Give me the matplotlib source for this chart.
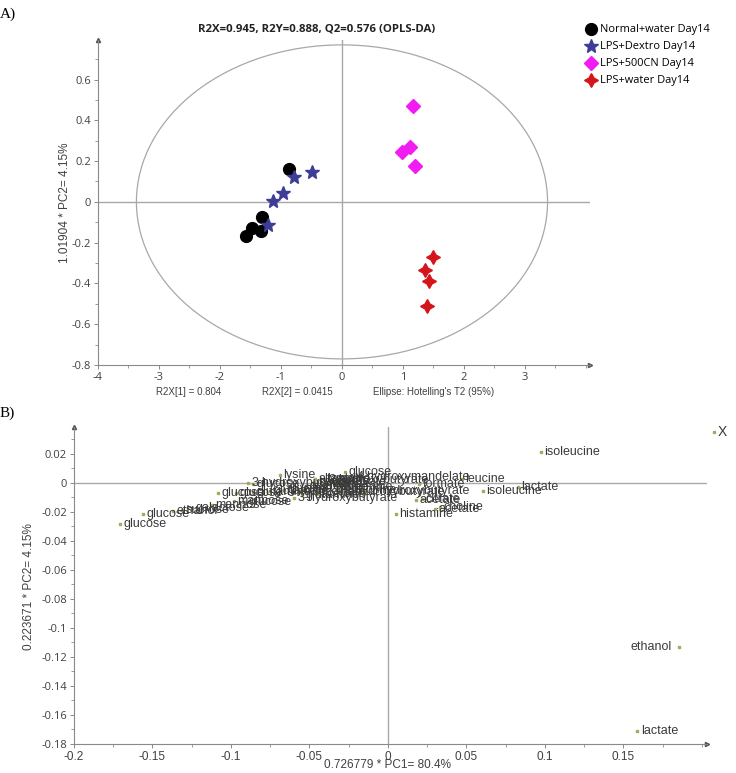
import matplotlib
matplotlib.use("Agg")
import matplotlib.pyplot as plt
from matplotlib.patches import Ellipse
from matplotlib.ticker import MultipleLocator
import numpy as np

# ---------------- data: panel A (scores) ----------------
groups = ["Normal+water Day14", "LPS+Dextro Day14", "LPS+500CN Day14", "LPS+water Day14"]
normal_x = [-0.87, -1.31, -1.48, -1.33, -1.57]
normal_y = [0.160, -0.072, -0.126, -0.142, -0.167]
dextro_x = [-0.78, -0.49, -0.96, -1.13, -1.22]
dextro_y = [0.124, 0.146, 0.046, 0.002, -0.113]
cn500_x = [1.17, 1.12, 0.98, 1.19]
cn500_y = [0.470, 0.270, 0.245, 0.175]
water_x = [1.50, 1.36, 1.43, 1.39]
water_y = [-0.270, -0.335, -0.390, -0.510]
ellipse_a, ellipse_b = 3.37, 0.77

# ---------------- data: panel B (loadings) ----------------
load_names = [
    "X", "isoleucine", "lactate", "isoleucine", "leucine", "formate",
    "acetate", "citrate", "choline", "acetate", "histamine", "ethanol", "lactate",
    "glucose", "glucose", "ethanol", "sucrose", "galactose", "mannose", "mannose", "glucose",
    "3-hydroxybutyrate", "glucose", "glucose", "glutamine", "glutamate", "glycine",
    "3-hydroxybutyrate", "glucose", "lysine", "allantoin", "glucose",
    "4-hydroxymandelate", "2-hydroxybutyrate", "2-hydroxybutyrate", "3-hydroxybutyrate",
    "valine", "alanine", "betaine", "creatine", "taurine", "pyruvate", "succinate",
    "acetone", "methionine", "tyrosine", "glutamine", "threonine",
]
load_x = [
    0.2076, 0.0975, 0.0826, 0.0603, 0.0470, 0.0200,
    0.0178, 0.0215, 0.0330, 0.0300, 0.0050, 0.1853, 0.1588,
    -0.171, -0.156, -0.137, -0.131, -0.125, -0.112, -0.098, -0.091,
    -0.060, -0.108, -0.097, -0.086, -0.075, -0.066,
    -0.089, -0.086, -0.069, -0.0465, -0.0274,
    -0.022, -0.040, -0.014, -0.030,
    -0.058, -0.052, -0.047, -0.043, -0.038, -0.034, -0.050,
    -0.045, -0.036, -0.041, -0.055, -0.032,
]
load_y = [
    0.0350, 0.0214, -0.0025, -0.0055, 0.0025, -0.0010,
    -0.0117, -0.0110, -0.0165, -0.0180, -0.0214, -0.1130, -0.1710,
    -0.0285, -0.0214, -0.0195, -0.0185, -0.0175, -0.0155, -0.0125, -0.0130,
    -0.0102, -0.0071, -0.0068, -0.0062, -0.0058, -0.0050,
    0.0002, -0.0010, 0.0055, 0.0028, 0.0078,
    0.0042, 0.0020, -0.0055, -0.0065,
    -0.0040, -0.0020, 0.0005, -0.0030, -0.0010, 0.0010, -0.0060,
    -0.0075, -0.0045, 0.0030, -0.0085, -0.0025,
]

# ---------------- figure ----------------
W, H = 736, 773
fig = plt.figure(figsize=(W / 100, H / 100), dpi=100)

def fx(px):
    return px / W

def fy(py):
    return 1 - py / H

GRAY = "#8a8a8a"
LINE = "#a8a8a8"
TXT = "#404040"
seg = ["Open Sans", "DejaVu Sans"]
narrow = ["Liberation Sans Narrow", "Liberation Sans", "DejaVu Sans"]
arial = ["Liberation Sans", "DejaVu Sans"]

def style_axes(ax):
    for s in ["top", "right"]:
        ax.spines[s].set_visible(False)
    for s in ["left", "bottom"]:
        ax.spines[s].set_color(GRAY)
        ax.spines[s].set_linewidth(0.8)
    ax.tick_params(which="major", length=3, color=GRAY, width=0.7, labelcolor=TXT, pad=2)
    ax.tick_params(which="minor", length=2, color=GRAY, width=0.6)
    ax.plot(1, 0, ">", color="#555555", ms=3, transform=ax.transAxes, clip_on=False)
    ax.plot(0, 1, "^", color="#555555", ms=3, transform=ax.transAxes, clip_on=False)

# ---- Panel A ----
axA = fig.add_axes([fx(98), fy(365), fx(590) - fx(98), fy(40) - fy(365)])
axA.set_xlim(-4, 4.066)
axA.set_ylim(-0.8, 0.794)
style_axes(axA)
axA.axhline(0, color=LINE, lw=1.0, zorder=1)
axA.axvline(0, color=LINE, lw=1.0, zorder=1)
axA.add_patch(Ellipse((0, 0), 2 * ellipse_a, 2 * ellipse_b, fill=False, edgecolor=LINE, lw=0.9, zorder=1))
axA.xaxis.set_minor_locator(MultipleLocator(0.5))
axA.yaxis.set_minor_locator(MultipleLocator(0.1))
axA.set_xticks([-4, -3, -2, -1, 0, 1, 2, 3])
axA.set_xticklabels(["-4", "-3", "-2", "-1", "0", "1", "2", "3"])
axA.set_yticks([-0.8, -0.6, -0.4, -0.2, 0, 0.2, 0.4, 0.6])
axA.set_yticklabels(["-0.8", "-0.6", "-0.4", "-0.2", "0", "0.2", "0.4", "0.6"])
for lab in axA.get_xticklabels() + axA.get_yticklabels():
    lab.set_fontfamily(seg)
    lab.set_fontsize(8)

h1, = axA.plot(normal_x, normal_y, "o", color="black", ms=8.5, ls="none", zorder=3, label=groups[0])
h2, = axA.plot(dextro_x, dextro_y, "*", color="#3d3d96", ms=10, ls="none", zorder=3, label=groups[1])
h3, = axA.plot(cn500_x, cn500_y, "D", color="#f21cf2", ms=7, ls="none", zorder=3, label=groups[2])
h4, = axA.plot(water_x, water_y, marker=(4, 1, 0), color="#d4161c", ms=10, ls="none", zorder=3, label=groups[3])

leg = fig.legend(handles=[h1, h2, h3, h4], loc="upper left",
                 bbox_to_anchor=(fx(582), fy(20)), frameon=False,
                 prop={"family": seg, "size": 7.9}, handlelength=0.9,
                 handletextpad=0.35, labelspacing=0.55, borderaxespad=0)

fig.text(fx(317), fy(29), "R2X=0.945, R2Y=0.888, Q2=0.576 (OPLS-DA)", ha="center", va="center",
         fontsize=8.2, fontweight="bold", family=seg, color="#222222")
fig.text(fx(65), fy(203), "1.01904 * PC2= 4.15%", rotation=90, ha="center", va="center",
         fontsize=8.5, family=arial, color=TXT)
fig.text(fx(156), fy(392), "R2X[1] = 0.804", ha="left", va="center", fontsize=7, family=narrow, color=TXT)
fig.text(fx(262), fy(392), "R2X[2] = 0.0415", ha="left", va="center", fontsize=7, family=narrow, color=TXT)
fig.text(fx(373), fy(392), "Ellipse: Hotelling's T2 (95%)", ha="left", va="center", fontsize=7, family=narrow, color=TXT)
fig.text(fx(0), fy(14), "A)", ha="left", va="center", fontsize=11, family=["Liberation Serif", "DejaVu Serif"])

# ---- Panel B ----
axB = fig.add_axes([fx(74), fy(744), fx(707) - fx(74), fy(427) - fy(744)])
axB.set_xlim(-0.2, 0.2032)
axB.set_ylim(-0.18, 0.0386)
style_axes(axB)
axB.axhline(0, color=LINE, lw=1.0, zorder=1)
axB.axvline(0, color=LINE, lw=1.0, zorder=1)
xt = [-0.2, -0.15, -0.1, -0.05, 0, 0.05, 0.1, 0.15]
axB.set_xticks(xt)
axB.set_xticklabels(["-0.2", "-0.15", "-0.1", "-0.05", "0", "0.05", "0.1", "0.15"])
axB.xaxis.set_minor_locator(MultipleLocator(0.025))
yt = [-0.18, -0.16, -0.14, -0.12, -0.1, -0.08, -0.06, -0.04, -0.02, 0, 0.02]
axB.set_yticks(yt)
axB.set_yticklabels(["-0.18", "-0.16", "-0.14", "-0.12", "-0.1", "-0.08", "-0.06", "-0.04", "-0.02", "0", "0.02"])
axB.yaxis.set_minor_locator(MultipleLocator(0.01))
for lab in axB.get_xticklabels():
    lab.set_fontfamily(narrow)
    lab.set_fontsize(8.5)
for lab in axB.get_yticklabels():
    lab.set_fontfamily(seg)
    lab.set_fontsize(8)

axB.plot(load_x, load_y, "s", color="#a8a860", ms=1.8, ls="none", zorder=3, clip_on=False)
for name, x, y in zip(load_names, load_x, load_y):
    if name == "ethanol" and x > 0.1:
        axB.annotate(name, (x, y), xytext=(-5, 0), textcoords="offset points", ha="right", va="center",
                     fontsize=9, family=arial, color="#3a3a3a", annotation_clip=False)
    else:
        size = 10 if name == "X" else 9
        axB.annotate(name, (x, y), xytext=(2.5, 0), textcoords="offset points", ha="left", va="center",
                     fontsize=size, family=arial, color="#3a3a3a", annotation_clip=False)

fig.text(fx(29), fy(587), "0.223671 * PC2= 4.15%", rotation=90, ha="center", va="center",
         fontsize=8.5, family=arial, color=TXT)
fig.text(fx(388), fy(765), "0.726779 * PC1= 80.4%", ha="center", va="center",
         fontsize=8.5, family=arial, color=TXT)
fig.text(fx(0), fy(413), "B)", ha="left", va="center", fontsize=11, family=["Liberation Serif", "DejaVu Serif"])

fig.savefig("out.png", dpi=100)
